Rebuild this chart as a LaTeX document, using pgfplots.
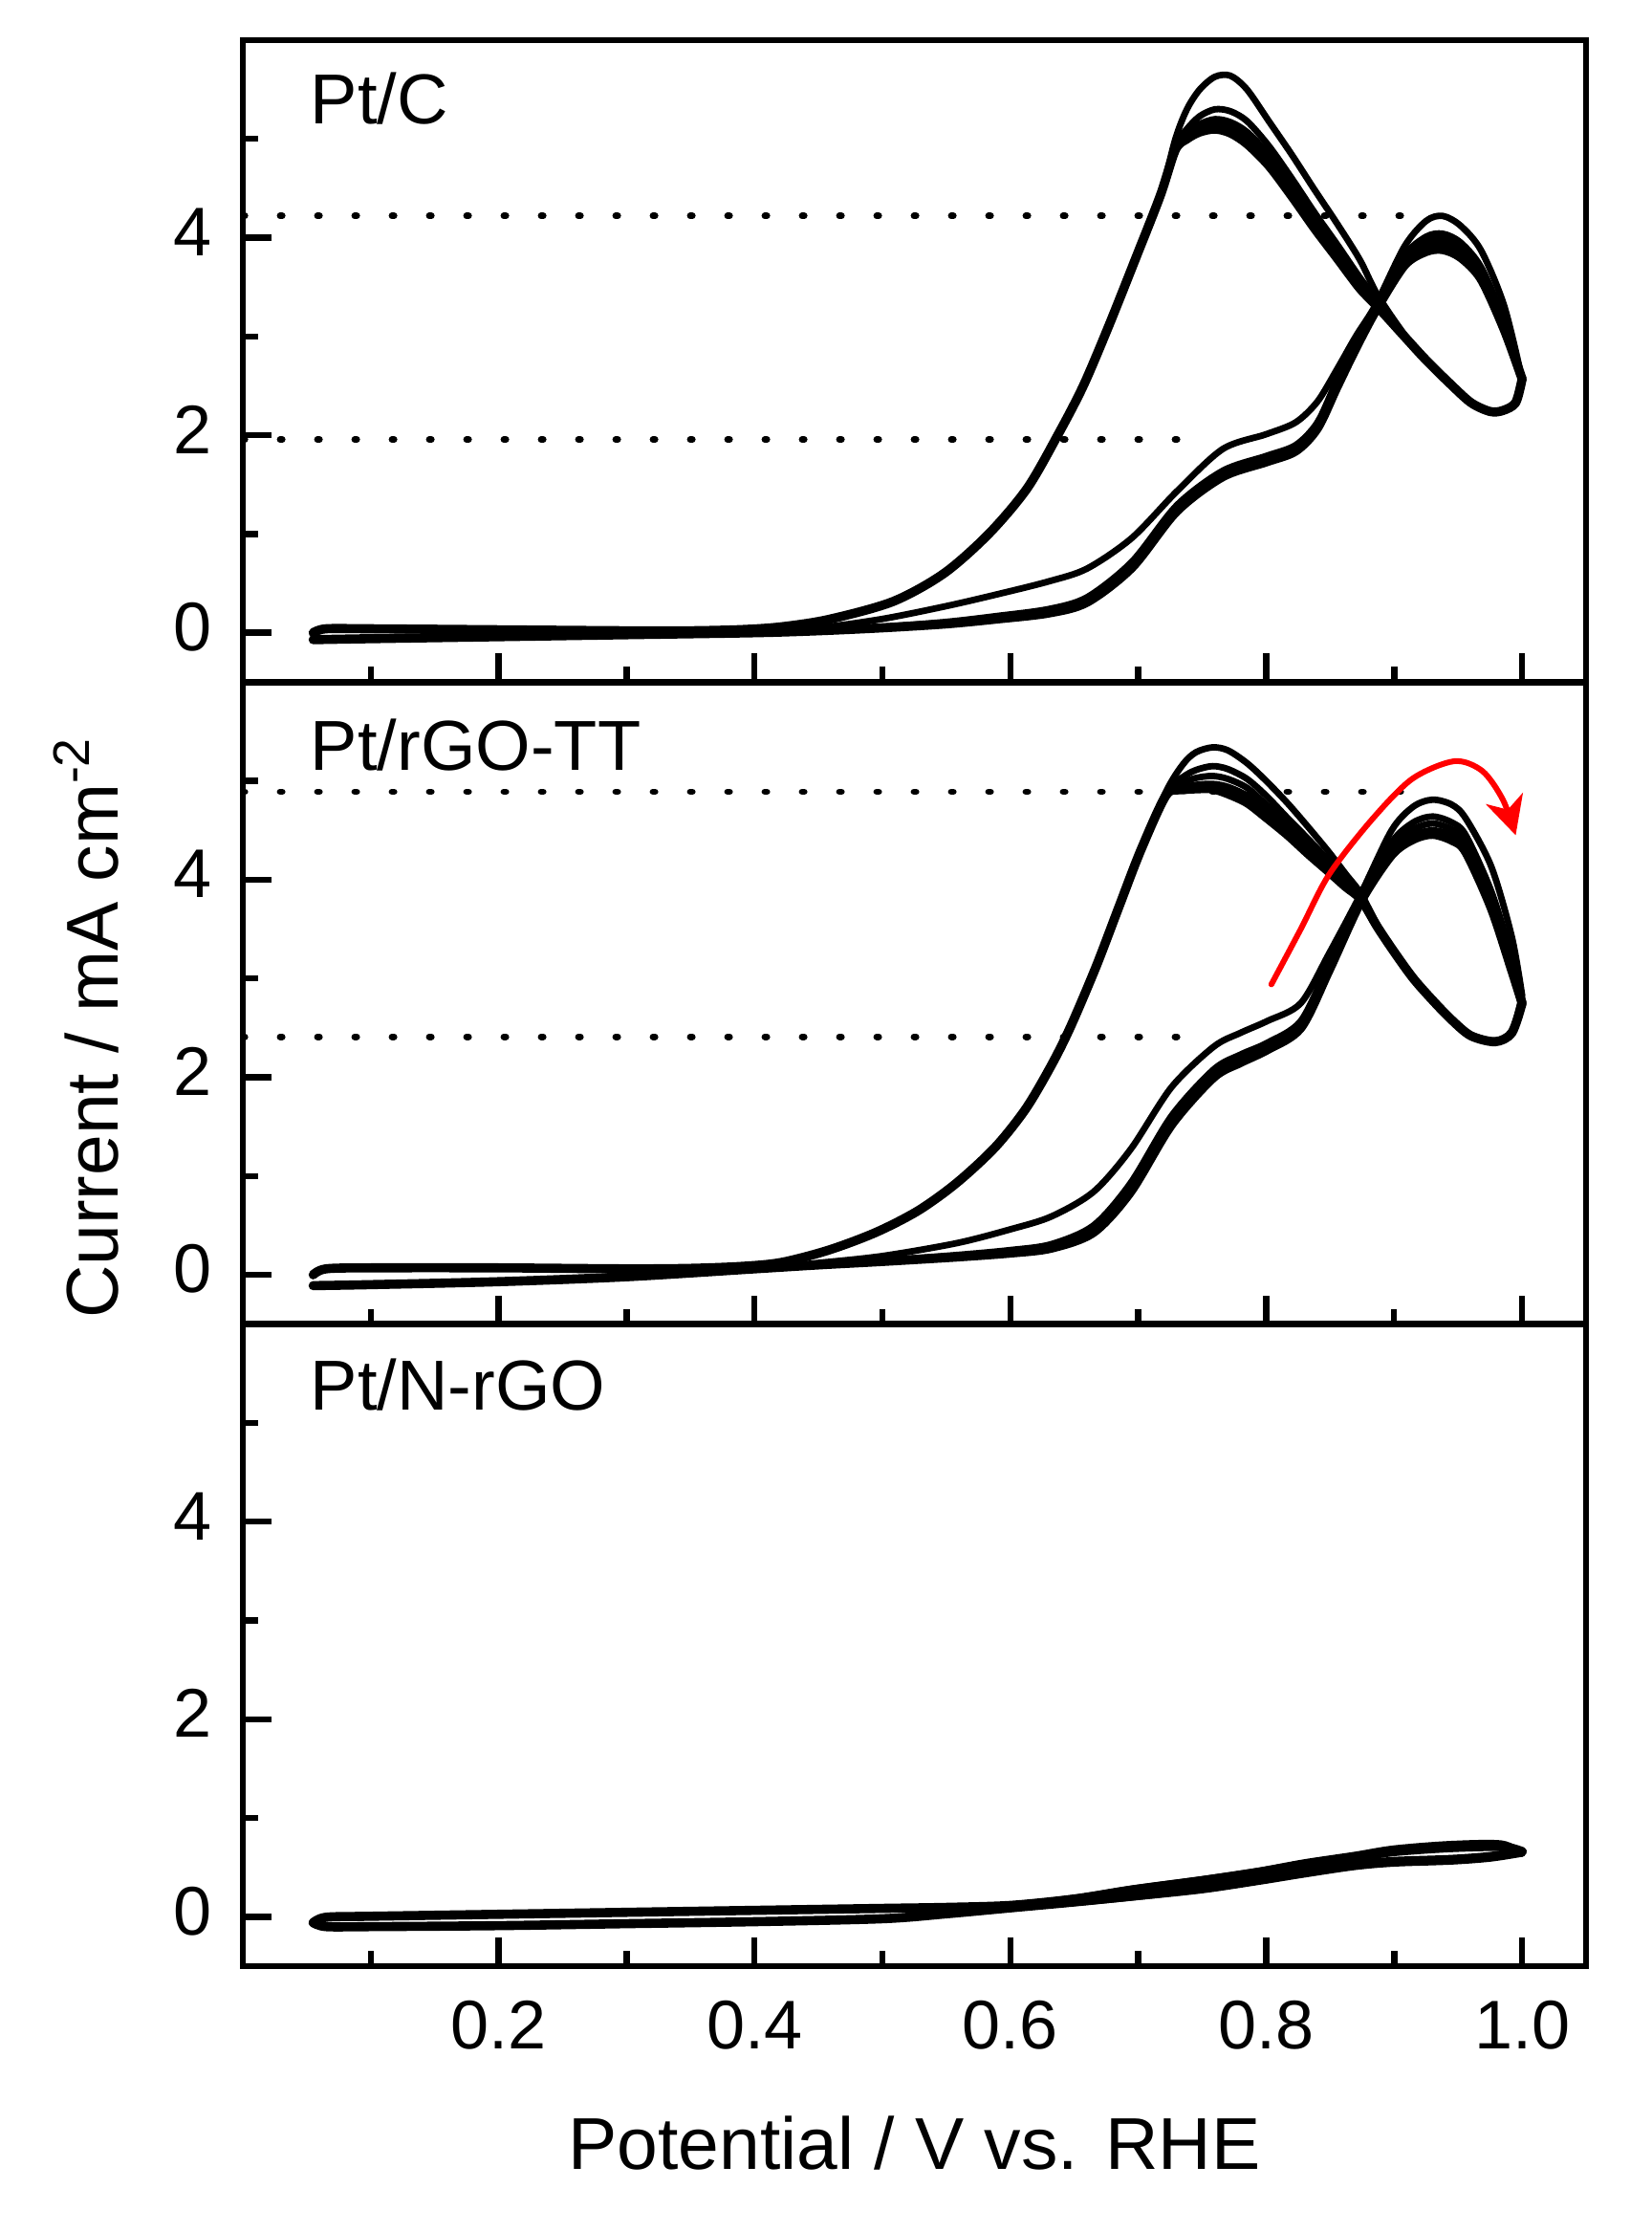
\documentclass[border=0pt]{standalone}
\usepackage{fontspec}
\setmainfont{Liberation Sans}
\usepackage{pgfplots}
\pgfplotsset{compat=1.18}
\usepackage{pgfplotstable}
\usetikzlibrary{arrows.meta}

\pgfplotstableread{
x f1 f2 f3 f4 f5
0.055 -0.07 -0.07 -0.07 -0.07 -0.07
0.10 -0.06 -0.06 -0.06 -0.06 -0.06
0.20 -0.04 -0.04 -0.04 -0.04 -0.04
0.30 -0.02 -0.02 -0.02 -0.02 -0.02
0.40 0.01 0.00 0.00 0.00 0.00
0.45 0.05 0.025 0.02 0.02 0.02
0.50 0.14 0.06 0.055 0.05 0.05
0.55 0.27 0.11 0.10 0.095 0.09
0.59 0.39 0.17 0.16 0.15 0.14
0.63 0.52 0.24 0.225 0.21 0.20
0.66 0.65 0.36 0.345 0.325 0.31
0.695 0.96 0.72 0.70 0.68 0.66
0.73 1.43 1.29 1.27 1.25 1.23
0.766 1.86 1.64 1.62 1.60 1.58
0.80 2.01 1.79 1.77 1.75 1.73
0.823 2.13 1.90 1.88 1.86 1.84
0.84 2.34 2.13 2.11 2.09 2.07
0.855 2.66 2.55 2.52 2.50 2.48
0.87 3.00 2.94 2.92 2.90 2.88
0.886 3.33 3.31 3.29 3.28 3.27
0.908 3.91 3.82 3.78 3.75 3.72
0.925 4.17 4.01 3.95 3.90 3.86
0.938 4.22 4.04 3.98 3.93 3.88
0.952 4.12 3.95 3.89 3.84 3.80
0.968 3.87 3.70 3.66 3.62 3.58
0.986 3.31 3.16 3.13 3.10 3.07
1.00 2.57 2.57 2.57 2.57 2.57
}\topF

\pgfplotstableread{
x r1 r2 r3 r4 r5
1.000 2.57 2.57 2.57 2.57 2.57
0.995 2.33 2.33 2.33 2.33 2.33
0.985 2.25 2.25 2.25 2.25 2.25
0.975 2.24 2.24 2.24 2.24 2.24
0.960 2.33 2.33 2.33 2.33 2.33
0.943 2.53 2.53 2.53 2.53 2.53
0.925 2.76 2.76 2.76 2.76 2.76
0.908 3.02 3.01 3.00 3.00 3.00
0.887 3.42 3.36 3.33 3.31 3.30
0.873 3.78 3.60 3.55 3.52 3.49
0.855 4.15 3.94 3.88 3.84 3.80
0.838 4.48 4.25 4.18 4.13 4.09
0.820 4.84 4.60 4.52 4.47 4.42
0.802 5.18 4.93 4.84 4.78 4.73
0.785 5.50 5.18 5.07 5.01 4.95
0.772 5.64 5.28 5.17 5.11 5.06
0.760 5.63 5.30 5.20 5.14 5.10
0.748 5.50 5.23 5.15 5.10 5.07
0.738 5.30 5.10 5.05 5.02 5.00
0.729 5.00 4.93 4.91 4.90 4.89
0.717 4.42 4.42 4.42 4.42 4.42
0.697 3.76 3.76 3.76 3.76 3.76
0.677 3.11 3.11 3.11 3.11 3.11
0.657 2.50 2.50 2.50 2.50 2.50
0.637 2.00 2.00 2.00 2.00 2.00
0.613 1.46 1.46 1.46 1.46 1.46
0.583 1.00 1.00 1.00 1.00 1.00
0.548 0.60 0.60 0.60 0.60 0.60
0.508 0.315 0.315 0.315 0.315 0.315
0.458 0.135 0.135 0.135 0.135 0.135
0.421 0.060 0.060 0.060 0.060 0.060
0.390 0.032 0.032 0.032 0.032 0.032
0.350 0.02 0.02 0.02 0.02 0.02
0.300 0.02 0.02 0.02 0.02 0.02
0.200 0.03 0.03 0.03 0.03 0.03
0.100 0.04 0.04 0.04 0.04 0.04
0.065 0.04 0.04 0.04 0.04 0.04
0.055 0.00 0.00 0.00 0.00 0.00
}\topR

\pgfplotstableread{
x f1 f2 f3 f4 f5
0.055 -0.11 -0.11 -0.11 -0.11 -0.11
0.10 -0.10 -0.10 -0.10 -0.10 -0.10
0.20 -0.07 -0.07 -0.07 -0.07 -0.07
0.30 -0.02 -0.02 -0.02 -0.02 -0.02
0.40 0.06 0.06 0.06 0.06 0.06
0.45 0.12 0.105 0.10 0.10 0.10
0.50 0.19 0.145 0.14 0.135 0.135
0.558 0.32 0.20 0.19 0.185 0.18
0.600 0.46 0.25 0.235 0.225 0.22
0.632 0.59 0.31 0.29 0.28 0.27
0.665 0.84 0.50 0.47 0.45 0.43
0.694 1.27 0.93 0.89 0.86 0.84
0.726 1.90 1.61 1.57 1.54 1.52
0.759 2.31 2.08 2.05 2.02 2.00
0.780 2.45 2.23 2.20 2.17 2.15
0.801 2.57 2.35 2.32 2.30 2.28
0.827 2.75 2.57 2.54 2.52 2.50
0.849 3.25 3.15 3.12 3.10 3.08
0.874 3.86 3.83 3.81 3.79 3.78
0.898 4.50 4.38 4.33 4.29 4.25
0.915 4.74 4.58 4.51 4.45 4.41
0.930 4.81 4.64 4.57 4.50 4.46
0.945 4.76 4.58 4.51 4.45 4.40
0.956 4.62 4.45 4.38 4.32 4.28
0.976 4.13 3.88 3.81 3.75 3.71
0.992 3.42 3.22 3.16 3.11 3.08
1.000 2.83 2.79 2.77 2.76 2.75
}\midF

\pgfplotstableread{
x r1 r2 r3 r4 r5
1.000 2.83 2.79 2.77 2.76 2.75
0.992 2.46 2.45 2.45 2.45 2.45
0.979 2.37 2.36 2.36 2.36 2.36
0.960 2.43 2.42 2.42 2.42 2.42
0.945 2.59 2.58 2.58 2.58 2.58
0.930 2.79 2.78 2.78 2.78 2.78
0.915 3.01 3.00 3.00 3.00 3.00
0.901 3.26 3.25 3.25 3.25 3.25
0.887 3.54 3.53 3.52 3.52 3.52
0.874 3.86 3.83 3.82 3.81 3.80
0.862 4.06 4.00 3.97 3.94 3.93
0.849 4.28 4.19 4.15 4.11 4.08
0.833 4.53 4.41 4.36 4.31 4.26
0.817 4.77 4.62 4.55 4.50 4.45
0.800 5.00 4.85 4.76 4.69 4.63
0.785 5.18 5.02 4.93 4.85 4.78
0.770 5.31 5.12 5.02 4.94 4.87
0.758 5.34 5.15 5.05 4.97 4.92
0.745 5.29 5.11 5.03 4.96 4.92
0.735 5.17 5.04 4.98 4.93 4.91
0.722 4.90 4.89 4.88 4.87 4.86
0.702 4.30 4.30 4.30 4.30 4.30
0.685 3.73 3.73 3.73 3.73 3.73
0.667 3.12 3.12 3.12 3.12 3.12
0.647 2.51 2.51 2.51 2.51 2.51
0.632 2.12 2.12 2.12 2.12 2.12
0.612 1.68 1.68 1.68 1.68 1.68
0.588 1.29 1.29 1.29 1.29 1.29
0.558 0.93 0.93 0.93 0.93 0.93
0.528 0.65 0.65 0.65 0.65 0.65
0.495 0.43 0.43 0.43 0.43 0.43
0.458 0.25 0.25 0.25 0.25 0.25
0.421 0.125 0.125 0.125 0.125 0.125
0.390 0.085 0.085 0.085 0.085 0.085
0.350 0.065 0.065 0.065 0.065 0.065
0.300 0.06 0.06 0.06 0.06 0.06
0.200 0.07 0.07 0.07 0.07 0.07
0.100 0.07 0.07 0.07 0.07 0.07
0.065 0.06 0.06 0.06 0.06 0.06
0.055 0.00 0.00 0.00 0.00 0.00
}\midR

\pgfplotstableread{
x f1 f2
0.055 -0.06 -0.06
0.065 -0.10 -0.10
0.10 -0.10 -0.10
0.20 -0.09 -0.09
0.30 -0.07 -0.07
0.40 -0.05 -0.05
0.50 -0.02 -0.02
0.55 0.03 0.03
0.60 0.09 0.09
0.65 0.14 0.15
0.695 0.195 0.21
0.75 0.27 0.29
0.794 0.355 0.375
0.83 0.43 0.45
0.869 0.505 0.525
0.90 0.54 0.56
0.944 0.56 0.58
0.975 0.59 0.61
1.00 0.64 0.66
}\botF

\pgfplotstableread{
x r1 r2
1.000 0.64 0.66
0.984 0.74 0.71
0.944 0.735 0.70
0.900 0.69 0.66
0.869 0.625 0.60
0.830 0.55 0.53
0.794 0.465 0.45
0.750 0.38 0.365
0.695 0.285 0.27
0.650 0.19 0.18
0.600 0.12 0.115
0.550 0.10 0.095
0.500 0.09 0.085
0.400 0.07 0.065
0.300 0.05 0.045
0.200 0.03 0.025
0.100 0.01 0.005
0.065 0.00 -0.005
0.055 -0.06 -0.06
}\botR

\tikzset{
  cv/.style={black, line width=1.7pt, smooth, line join=round, line cap=round},
  cvb/.style={black, line width=2.4pt, smooth, line join=round, line cap=round},
  dots/.style={black, line width=1.7pt, line cap=round, dash pattern=on 0.55pt off 9.2pt},
  plab/.style={anchor=base west, inner sep=0pt, font=\fontsize{18.5}{22}\selectfont},
}

\pgfplotsset{
  panel/.style={
    scale only axis, width=351.25pt, height=167.83pt,
    xmin=0, xmax=1.05, ymin=-0.5, ymax=6,
    xtick={0.2,0.4,0.6,0.8,1.0}, minor xtick={0.1,0.3,0.5,0.7,0.9},
    ytick={0,2,4}, minor ytick={1,3,5}, yticklabels={0,2,4},
    tick align=inside, xtick pos=bottom, ytick pos=left,
    major tick length=7.5pt, minor tick length=4pt,
    every tick/.style={black, line width=1.6pt},
    axis line style={line width=1.7pt},
    yticklabel style={font=\fontsize{18}{20}\selectfont, inner sep=0pt, yshift=1.5pt},
    xticklabel style={font=\fontsize{18}{20}\selectfont, inner sep=0pt},
    yticklabel shift=8pt, xticklabel shift=8.9pt,
    anchor=south west,
  }
}

\begin{document}
\begin{tikzpicture}
\path[use as bounding box] (0,0) rectangle (431.75pt,583.5pt);

% ---- top: Pt/C
\begin{axis}[panel, at={(63.5pt,405.17pt)}, xticklabel=\empty]
\addplot[dots] coordinates {(0,4.22) (0.919,4.22)};
\addplot[dots] coordinates {(0,1.955) (0.748,1.955)};
\addplot[cv] table[x=x,y=f1]{\topF};
\addplot[cv] table[x=x,y=f2]{\topF};
\addplot[cv] table[x=x,y=f3]{\topF};
\addplot[cv] table[x=x,y=f4]{\topF};
\addplot[cvb] table[x=x,y=f5]{\topF};
\addplot[cv] table[x=x,y=r1]{\topR};
\addplot[cv] table[x=x,y=r2]{\topR};
\addplot[cv] table[x=x,y=r3]{\topR};
\addplot[cv] table[x=x,y=r4]{\topR};
\addplot[cvb] table[x=x,y=r5]{\topR};
\node[plab] at (axis cs:0.0524,5.15) {Pt/C};
\end{axis}

% ---- middle: Pt/rGO-TT
\begin{axis}[panel, at={(63.5pt,237.33pt)}, xticklabel=\empty,
  ylabel={Current / mA cm\textsuperscript{-2}},
  every axis y label/.style={at={(rel axis cs:-0.0931,0.462)}, anchor=base, rotate=90, inner sep=0pt, font=\fontsize{19.2}{22}\selectfont}]
\addplot[dots] coordinates {(0,4.89) (0.921,4.89)};
\addplot[dots] coordinates {(0,2.41) (0.750,2.41)};
\addplot[cv] table[x=x,y=f1]{\midF};
\addplot[cv] table[x=x,y=f2]{\midF};
\addplot[cv] table[x=x,y=f3]{\midF};
\addplot[cv] table[x=x,y=f4]{\midF};
\addplot[cvb] table[x=x,y=f5]{\midF};
\addplot[cv] table[x=x,y=r1]{\midR};
\addplot[cv] table[x=x,y=r2]{\midR};
\addplot[cv] table[x=x,y=r3]{\midR};
\addplot[cv] table[x=x,y=r4]{\midR};
\addplot[cvb] table[x=x,y=r5]{\midR};
\addplot[red, line width=1.5pt, smooth, line cap=round, -{Stealth[length=10pt,width=10pt,inset=3pt]}]
  coordinates {(0.804,2.94) (0.827,3.50) (0.849,4.05) (0.882,4.60) (0.914,5.02) (0.947,5.20) (0.969,5.10) (0.985,4.81) (0.995,4.45)};
\node[plab] at (axis cs:0.0524,5.11) {Pt/rGO-TT};
\end{axis}

% ---- bottom: Pt/N-rGO
\begin{axis}[panel, at={(63.5pt,69.5pt)},
  xticklabels={0.2,0.4,0.6,0.8,1.0},
  xlabel={Potential / V vs. RHE},
  every axis x label/.style={at={(rel axis cs:0.5,0)}, anchor=base, yshift=-53pt, inner sep=0pt, font=\fontsize{19.2}{22}\selectfont}]
\addplot[cv] table[x=x,y=f1]{\botF};
\addplot[cvb] table[x=x,y=f2]{\botF};
\addplot[cv] table[x=x,y=r1]{\botR};
\addplot[cvb] table[x=x,y=r2]{\botR};
\node[plab] at (axis cs:0.0524,5.13) {Pt/N-rGO};
\end{axis}
\end{tikzpicture}
\end{document}
